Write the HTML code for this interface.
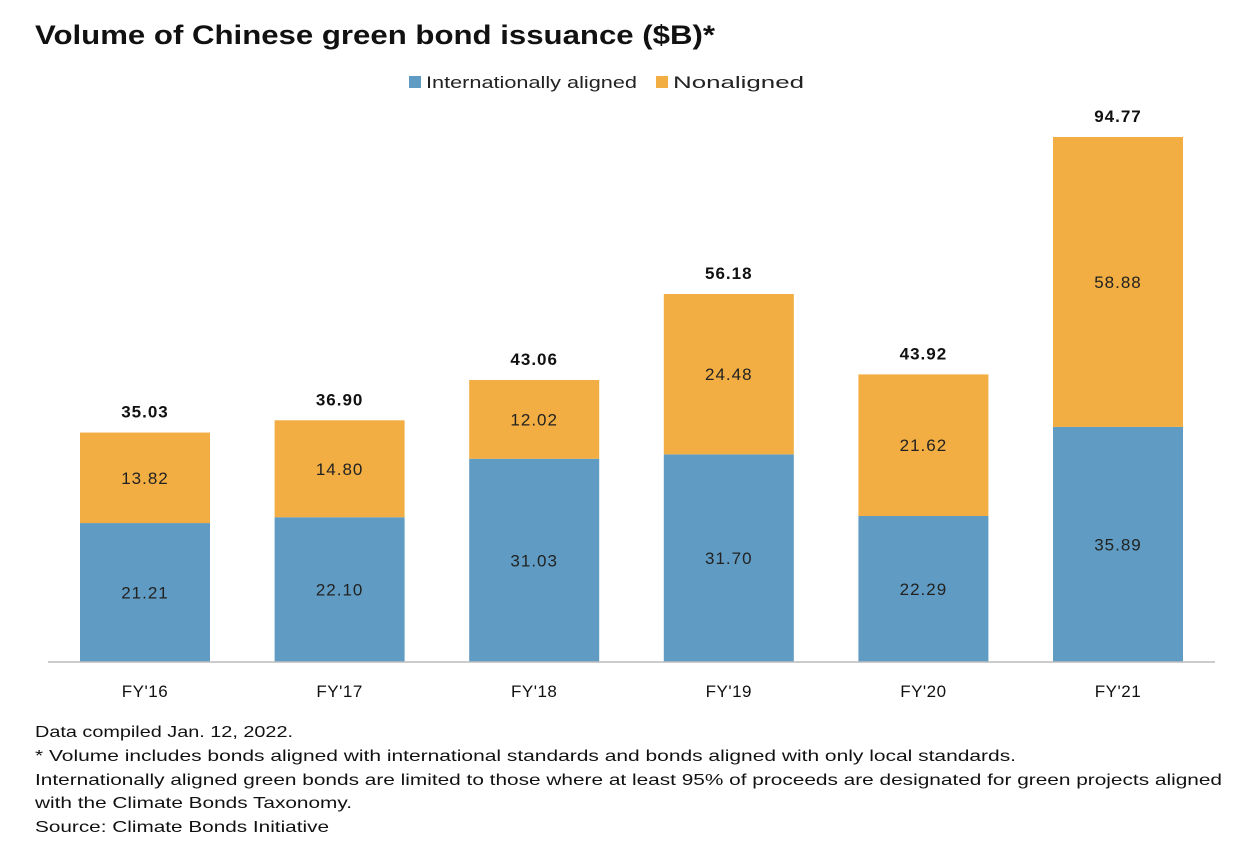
<!DOCTYPE html>
<html><head><meta charset="utf-8"><style>
body{margin:0;width:1254px;height:866px;background:#fff;font-family:"Liberation Sans",sans-serif;overflow:hidden}
svg{position:absolute;left:0;top:0}
</style></head><body>
<svg width="1254" height="866">
<rect x="24" y="0" width="1230" height="866" fill="#fff"/>
<text x="35" y="44" font-size="27" font-weight="bold" fill="#111" textLength="680" lengthAdjust="spacingAndGlyphs">Volume of Chinese green bond issuance ($B)*</text>
<g>
<rect x="409" y="76" width="12" height="12" fill="#5f9bc3"/>
<text x="426" y="88" font-size="17" fill="#222" textLength="211" lengthAdjust="spacingAndGlyphs">Internationally aligned</text>
<rect x="656" y="76" width="12" height="12" fill="#f2ae42"/>
<text x="673" y="88" font-size="17" fill="#222" textLength="131" lengthAdjust="spacingAndGlyphs">Nonaligned</text>
</g>
<g id="bars"></g>
<line x1="48" y1="662" x2="1215" y2="662" stroke="#bbb" stroke-width="1.5"/>
<g font-size="16" fill="#111" lengthAdjust="spacingAndGlyphs">
<text x="35" y="737" textLength="258" lengthAdjust="spacingAndGlyphs">Data compiled Jan. 12, 2022.</text>
<text x="35" y="761" textLength="981" lengthAdjust="spacingAndGlyphs">* Volume includes bonds aligned with international standards and bonds aligned with only local standards.</text>
<text x="35" y="785" textLength="1187" lengthAdjust="spacingAndGlyphs">Internationally aligned green bonds are limited to those where at least 95% of proceeds are designated for green projects aligned</text>
<text x="35" y="808" textLength="317" lengthAdjust="spacingAndGlyphs">with the Climate Bonds Taxonomy.</text>
<text x="35" y="832" textLength="294" lengthAdjust="spacingAndGlyphs">Source: Climate Bonds Initiative</text>
</g>
</svg>
<script>
const categories=["FY'16","FY'17","FY'18","FY'19","FY'20","FY'21"];
const aligned=[21.21,22.10,31.03,31.70,22.29,35.89];
const nonaligned=[13.82,14.80,12.02,24.48,21.62,58.88];
const totals=[35.03,36.90,43.06,56.18,43.92,94.77];
const NS='http://www.w3.org/2000/svg';
const base=662, top0=137, k=6.55;
const y=v=>Math.max(top0, base-v*k);
const xc=i=>145+i*194.6;
const W=130;
const g=document.getElementById('bars');
function mk(tag,a,parent){const e=document.createElementNS(NS,tag);for(const n in a)e.setAttribute(n,a[n]);(parent||g).appendChild(e);return e;}
categories.forEach((c,i)=>{
 const x=xc(i)-W/2;
 const yb=y(aligned[i]), yt=y(aligned[i]+nonaligned[i]);
 const b=mk('rect',{x:x,y:yb,width:W,height:base-yb,fill:'#5f9bc3'});
 
 
 const o=mk('rect',{x:x,y:yt,width:W,height:yb-yt,fill:'#f2ae42'});
 
 
 const t1=mk('text',{x:xc(i),y:(yb+base)/2+6,'font-size':17,'letter-spacing':1,'text-anchor':'middle',fill:'#222'});t1.textContent=aligned[i].toFixed(2);
 
 
 const t2=mk('text',{x:xc(i),y:(yt+yb)/2+6,'font-size':17,'letter-spacing':1,'text-anchor':'middle',fill:'#222'});t2.textContent=nonaligned[i].toFixed(2);
 
 
 const t3=mk('text',{x:xc(i),y:yt-15,'font-size':17,'font-weight':'bold','letter-spacing':1,'text-anchor':'middle',fill:'#111'});t3.textContent=totals[i].toFixed(2);
 
 
 const t4=mk('text',{x:xc(i),y:697,'font-size':17,'letter-spacing':0.5,'text-anchor':'middle',fill:'#111'});t4.textContent=c;
 
 
});
</script>
</body></html>
